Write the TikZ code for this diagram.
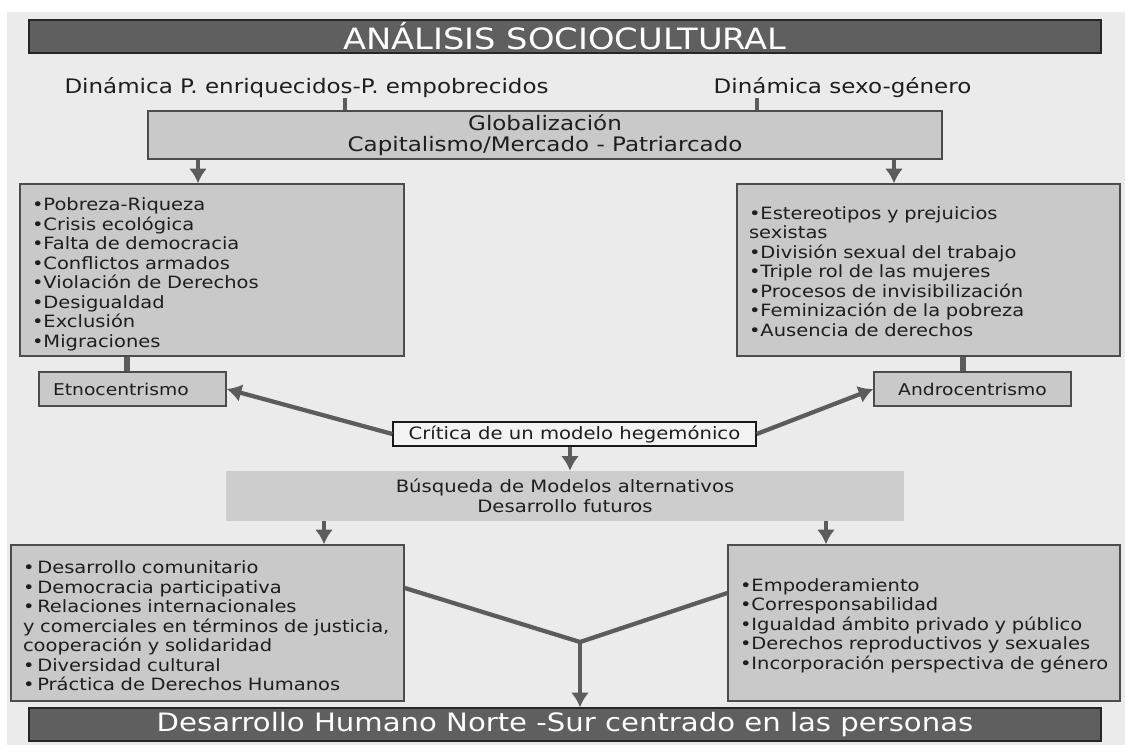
\documentclass[tikz,border=0pt]{standalone}
\usepackage{fontspec}
\setmainfont{DejaVu Sans}[FakeStretch=1.15]
\usetikzlibrary{arrows.meta}
\definecolor{bggray}{HTML}{EBEBEB}
\definecolor{bargray}{HTML}{5F5F5F}
\definecolor{boxgray}{HTML}{C9C9C9}
\definecolor{midgray}{HTML}{CDCDCD}
\definecolor{paper}{HTML}{F3F3F3}
\definecolor{linkgray}{HTML}{5C5C5C}
\definecolor{inkgray}{HTML}{1E1E1E}

\begin{document}
\begin{tikzpicture}[x=0.75pt,y=-0.75pt,>={Latex[length=11pt,width=13.5pt]},
  every node/.style={text=inkgray,inner sep=0pt},
  bar/.style={draw=black!85,fill=bargray,text=white,line width=1.1pt,minimum width=804pt,minimum height=24.75pt},
  list/.style={draw=black!70,fill=boxgray,line width=1.1pt,align=left,inner xsep=9pt,font=\fontsize{12.7}{14.6}\selectfont},
  tag/.style={draw=black!70,fill=boxgray,line width=1.1pt,minimum height=25.5pt,font=\fontsize{12.2}{14}\selectfont},
  link/.style={draw=linkgray,line width=3.2pt},
  thin/.style={draw=linkgray,line width=2.3pt},
  bond/.style={draw=linkgray,line width=5pt},
  arr/.style={link,->}]
  \useasboundingbox (0,0) rectangle (1125,745);
  \fill[bggray] (7,12) rectangle (1125,745);

  \node[bar,font=\fontsize{22}{24}\selectfont] (1) at (565,36.5) {ANÁLISIS SOCIOCULTURAL};
  \node[font=\fontsize{15}{18}\selectfont] (2) at (306.5,88) {Dinámica P. enriquecidos-P. empobrecidos};
  \node[font=\fontsize{15}{18}\selectfont] (3) at (842.5,88) {Dinámica sexo-género};
  \node[draw=black!70,fill=boxgray,line width=1.1pt,minimum width=595.5pt,minimum height=36pt,
        align=center,font=\fontsize{15}{15.75}\selectfont] (4) at (545,135)
    {Globalización\\Capitalismo/Mercado - Patriarcado};

  \node[list,text width=270pt,minimum height=129pt] (5) at (212,270) {\noindent
    \begin{tabular}{@{}l@{}}
      \rule{0pt}{18pt}•Pobreza-Riqueza\\
      •Crisis ecológica\\
      •Falta de democracia\\
      •Conflictos armados\\
      •Violación de Derechos\\
      •Desigualdad\\
      •Exclusión\\
      •Migraciones
    \end{tabular}};
  \node[list,text width=269.25pt,minimum height=129pt] (6) at (928.5,270) {\noindent
    \begin{tabular}{@{}l@{}}
      \rule{0pt}{16pt}•Estereotipos y prejuicios\\
      sexistas\\
      •División sexual del trabajo\\
      •Triple rol de las mujeres\\
      •Procesos de invisibilización\\
      •Feminización de la pobreza\\
      •Ausencia de derechos
    \end{tabular}};

  \node[tag,text width=119.25pt,inner xsep=10.5pt,align=left] (7) at (132.5,389) {Etnocentrismo};
  \node[tag,minimum width=147.75pt] (8) at (972.5,389) {Androcentrismo};

  \node[draw=black!90,fill=paper,line width=0.9pt,minimum width=272.25pt,minimum height=18pt,
        font=\fontsize{12.8}{14}\selectfont] (9) at (574.5,434) {Crítica de un modelo hegemónico};
  \node[fill=midgray,minimum width=508.5pt,minimum height=37.5pt,align=center,
        font=\fontsize{12.8}{15}\selectfont] (10) at (565,496)
    {Búsqueda de Modelos alternativos\\Desarrollo futuros};

  \node[list,text width=276.75pt,minimum height=117pt] (11) at (207.5,623) {\noindent
    \begin{tabular}{@{}l@{}}
      \rule{0pt}{18pt}•\,Desarrollo comunitario\\
      •\,Democracia participativa\\
      •\,Relaciones internacionales\\
      y comerciales en términos de justicia,\\
      cooperación y solidaridad\\
      •\,Diversidad cultural\\
      •\,Práctica de Derechos Humanos
    \end{tabular}};
  \node[list,text width=276pt,minimum height=117pt] (12) at (924,623) {\noindent
    \begin{tabular}{@{}l@{}}
      \rule{0pt}{15pt}•Empoderamiento\\
      •Corresponsabilidad\\
      •Igualdad ámbito privado y público\\
      •Derechos reproductivos y sexuales\\
      •Incorporación perspectiva de género
    \end{tabular}};

  \node[bar,font=\fontsize{19}{22}\selectfont] (13) at (565,724.5)
    {Desarrollo Humano Norte -Sur centrado en las personas};
  \coordinate (j) at (580,642);

  % connectors
  \path (2.south -| 345,0) edge[thin] (4.north -| 345,0);
  \path (3.south -| 757,0) edge[thin] (4.north -| 757,0);
  \path (4.south -| 198,0) edge[arr] (5.north -| 198,0);
  \path (4.south -| 894,0) edge[arr] (6.north -| 894,0);
  \path (5.south -| 127,0) edge[bond] (7.north -| 127,0);
  \path (6.south -| 963,0) edge[bond] (8.north -| 963,0);
  \path (9.west) edge[arr] (7.east);
  \path (9.east) edge[arr] (8.west);
  \path (9.south -| 570,0) edge[arr] (10.north -| 570,0);
  \path (10.south -| 324,0) edge[arr] (11.north -| 324,0);
  \path (10.south -| 826,0) edge[arr] (12.north -| 826,0);
  \draw[link] (11.east |- 0,588) -- (j) -- (12.west |- 0,593);
  \path (j) edge[arr] (j |- 13.north);
\end{tikzpicture}
\end{document}
